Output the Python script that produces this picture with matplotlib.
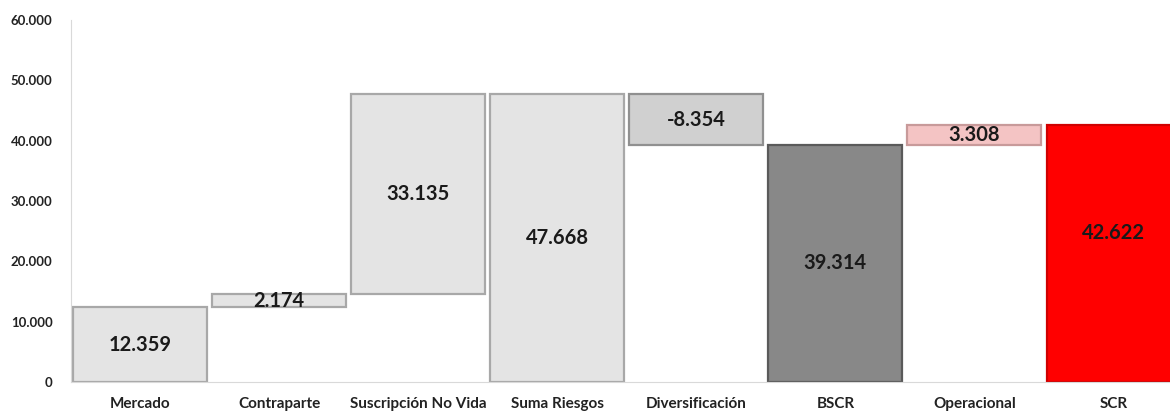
import numpy as np
import matplotlib.pyplot as plt
from matplotlib.ticker import FuncFormatter

plt.rcParams['font.family'] = ['Lato', 'DejaVu Sans']

categorias = ['Mercado', 'Contraparte', 'Suscripción No Vida', 'Suma Riesgos',
              'Diversificación', 'BSCR', 'Operacional', 'SCR']
valores = [12359, 2174, 33135, 47668, -8354, 39314, 3308, 42622]
es_total = [False, False, False, True, False, True, False, True]
colores = ['#e4e4e4', '#e4e4e4', '#e4e4e4', '#e4e4e4', '#d0d0d0', '#888888', '#f4c4c4', '#ff0000']
bordes = ['#a8a8a8', '#a8a8a8', '#a8a8a8', '#a8a8a8', '#909090', '#5a5a5a', '#c89a9a', '#d00000']

# bases del waterfall
bases = []
acum = 0
for v, tot in zip(valores, es_total):
    if tot:
        bases.append(0)
        acum = v
    else:
        bases.append(acum if v >= 0 else acum + v)
        acum += v
alturas = [abs(v) for v in valores]

fig = plt.figure(figsize=(11.7, 4.12), dpi=100)
ax = fig.add_axes([70.5/1170, 30/412, (1183-70.5)/1170, 362/412])

x = np.arange(len(categorias))
ax.bar(x, alturas, bottom=bases, width=0.963, color=colores,
       edgecolor=bordes, linewidth=1.6, zorder=2)

for i, (b, h, v) in enumerate(zip(bases, alturas, valores)):
    y = b + h / 2
    if categorias[i] == 'SCR':
        y = b + h * 0.58
    etiqueta = f'{v:,}'.replace(',', '.')
    ax.text(i, y, etiqueta, ha='center', va='center', fontsize=14.5,
            fontweight='bold', color='#1a1a1a', zorder=3)

ax.set_xlim(-0.5, 7.5)
ax.set_ylim(0, 60000)
ax.set_yticks(np.arange(0, 60001, 10000))
ax.yaxis.set_major_formatter(FuncFormatter(lambda v, p: f'{int(v):,}'.replace(',', '.')))
ax.set_xticks(x)
ax.set_xticklabels(categorias)
ax.tick_params(axis='both', length=0, labelsize=9.5, colors='#222222')
ax.tick_params(axis='y', pad=13)
ax.tick_params(axis='x', pad=11, labelsize=11)
for lab in ax.get_xticklabels() + ax.get_yticklabels():
    lab.set_fontweight('bold')

for s in ['top', 'right']:
    ax.spines[s].set_visible(False)
ax.spines['left'].set_color('#d9d9d9')
ax.spines['bottom'].set_color('#d9d9d9')

fig.savefig('out.png', dpi=100)
